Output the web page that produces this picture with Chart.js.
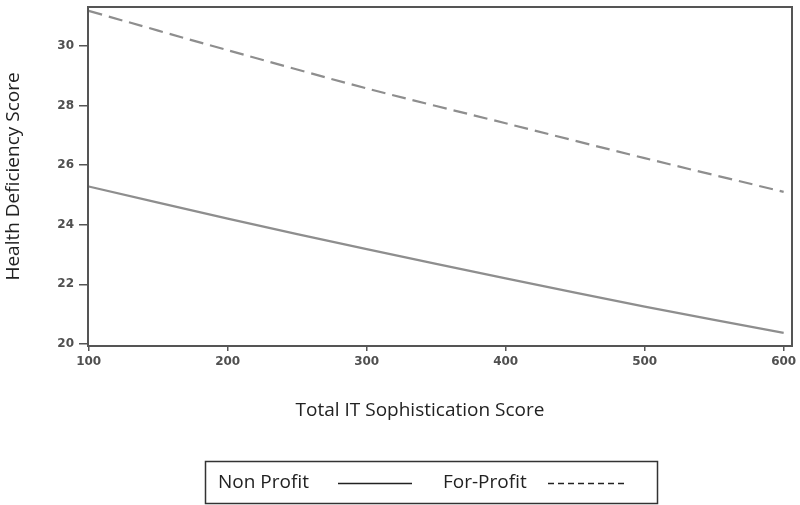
<!DOCTYPE html>
<html>
<head>
<meta charset="utf-8">
<script src="https://cdn.jsdelivr.net/npm/chart.js@4.4.1/dist/chart.umd.min.js"></script>
<style>
  html, body { margin: 0; padding: 0; background: #fff; }
</style>
</head>
<body>
<canvas id="deficiency" width="800" height="505"></canvas>
<script>
// values
var itScores  = [100, 200, 300, 400, 500, 600];
var nonProfit = [25.28, 24.20, 23.18, 22.20, 21.25, 20.37];
var forProfit = [31.17, 29.85, 28.57, 27.40, 26.23, 25.10];
var xTicks = [100, 200, 300, 400, 500, 600];
var yTicks = [20, 22, 24, 26, 28, 30];
var xTitle = 'Total IT Sophistication Score';
var yTitle = 'Health Deficiency Score';

var toPoints = function(ys) {
	return itScores.map(function(x, i) { return {x: x, y: ys[i]}; });
};

var titleFont = '"Open Sans", "Liberation Sans", sans-serif';

// box around the plot, x title and the legend under it
var extras = {
	id: 'extras',
	afterDatasetsDraw: function(chart) {
		var a = chart.chartArea, ctx = chart.ctx;
		ctx.save();
		ctx.strokeStyle = '#555';
		ctx.lineWidth = 2;
		ctx.strokeRect(a.left, a.top, a.right - a.left, a.bottom - a.top);
		ctx.restore();
	},
	afterDraw: function(chart) {
		var ctx = chart.ctx;
		ctx.save();
		ctx.fillStyle = '#222';
		ctx.font = '19px ' + titleFont;
		ctx.textAlign = 'center';
		ctx.textBaseline = 'middle';
		ctx.fillText(xTitle, 420, 411);

		// legend
		ctx.strokeStyle = '#333';
		ctx.lineWidth = 1.5;
		ctx.strokeRect(205.5, 461.5, 452, 42);
		ctx.textAlign = 'left';
		var sets = chart.data.datasets;
		var textX = [218, 443];
		var lineX = [[338, 412], [548, 624]];
		sets.forEach(function(ds, i) {
			ctx.fillStyle = '#222';
			ctx.fillText(ds.label, textX[i], 483);
			ctx.beginPath();
			ctx.strokeStyle = '#222';
			ctx.lineWidth = 1.4;
			ctx.setLineDash(ds.borderDash && ds.borderDash.length ? [6, 4] : []);
			ctx.moveTo(lineX[i][0], 483.5);
			ctx.lineTo(lineX[i][1], 483.5);
			ctx.stroke();
		});
		ctx.restore();
	}
};

new Chart(document.getElementById('deficiency'), {
	type: 'line',
	data: {
		datasets: [
			{
				label: 'Non Profit',
				data: toPoints(nonProfit),
				borderColor: '#8e8e8e',
				borderWidth: 2.2,
				pointRadius: 0,
				tension: 0.3,
				fill: false
			},
			{
				label: 'For-Profit',
				data: toPoints(forProfit),
				borderColor: '#8e8e8e',
				borderWidth: 2.2,
				borderDash: [14, 7],
				pointRadius: 0,
				tension: 0.3,
				fill: false
			}
		]
	},
	options: {
		responsive: false,
		animation: false,
		layout: { padding: { left: 0, top: 7, right: 8, bottom: 84 } },
		plugins: {
			legend: { display: false },
			tooltip: { enabled: false }
		},
		scales: {
			x: {
				type: 'linear',
				min: 99.5,
				max: 606,
				afterBuildTicks: function(scale) {
					scale.ticks = xTicks.map(function(v) { return {value: v}; });
				},
				afterFit: function(scale) {
					scale.height = 75;
					scale.paddingLeft = 0;
					scale.paddingRight = 0;
				},
				grid: { drawOnChartArea: false, drawTicks: true, tickLength: 5, color: '#555', lineWidth: 1.5 },
				border: { display: false },
				ticks: {
					padding: 4,
					maxRotation: 0,
					color: '#505050',
					font: { family: '"DejaVu Sans"', size: 12, weight: 'bold' }
				},
				title: { display: false }
			},
			y: {
				min: 19.93,
				max: 31.3,
				afterBuildTicks: function(scale) {
					scale.ticks = yTicks.map(function(v) { return {value: v}; });
				},
				afterFit: function(scale) {
					scale.width = 88;
					scale.paddingTop = 0;
					scale.paddingBottom = 0;
				},
				grid: { drawOnChartArea: false, drawTicks: true, tickLength: 9, color: '#555', lineWidth: 1.5 },
				border: { display: false },
				ticks: {
					padding: 5,
					color: '#505050',
					font: { family: '"DejaVu Sans"', size: 12, weight: 'bold' }
				},
				title: {
					display: true,
					text: yTitle,
					color: '#222',
					padding: { top: 2, bottom: 0 },
					font: { family: titleFont, size: 19, weight: 'normal' }
				}
			}
		}
	},
	plugins: [extras]
});
</script>
</body>
</html>
